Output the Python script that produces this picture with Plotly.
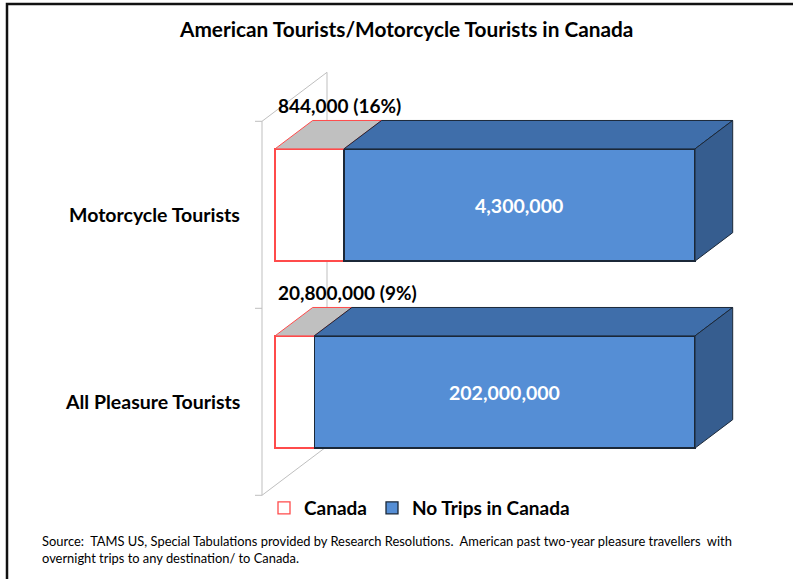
import plotly.graph_objects as go

# ---------------- data ----------------
categories = ["All Pleasure Tourists", "Motorcycle Tourists"]
canada = [20800000, 844000]
no_trips = [202000000, 4300000]
canada_labels = ["20,800,000 (9%)", "844,000 (16%)"]
no_trip_labels = ["202,000,000", "4,300,000"]
series_names = ["Canada", "No Trips in Canada"]
title_text = "American Tourists/Motorcycle Tourists in Canada"
source_text = ("Source:  TAMS US, Special Tabulations provided by Research Resolutions.  "
               "American past two-year pleasure travellers  with<br>overnight trips to any destination/ to Canada.")

# shares (100% stacked)
totals = [a + b for a, b in zip(canada, no_trips)]
pct_canada = [100 * a / t for a, t in zip(canada, totals)]
pct_none = [100 * b / t for b, t in zip(no_trips, totals)]
ypos = list(range(len(categories)))

# ---------------- style / geometry ----------------
W, H = 793, 579
PX_X = 4.2      # px per percent
PX_Y = 187.0    # px per category
X0_PX = 275     # pixel of 0 %
Y0_PX = 392     # pixel of first category centre
FONT = "Lato"
HW = 0.3        # half bar thickness (category units)
DX = 65 / PX_X  # full depth vector (data units)
DY = 49 / PX_Y
D_FRONT, D_BACK = 0.2, 0.78

C_BLUE = "#558ed5"
C_BLUE_TOP = "#3f6eaa"
C_BLUE_SIDE = "#365d8f"
C_EDGE = "#1b2838"
C_RED = "#ff4b4b"
C_GREY = "#c0c0c0"
C_AXIS = "#bfbfbf"


def at_depth(x, y, d):
    return x + (d - D_FRONT) * DX, y + (d - D_FRONT) * DY


fig = go.Figure()

# front faces
fig.add_trace(go.Bar(
    y=ypos, x=pct_canada, orientation="h", width=2 * HW, name=series_names[0],
    marker=dict(color="white", line=dict(color=C_RED, width=1.3)),
))
fig.add_trace(go.Bar(
    y=ypos, x=pct_none, base=pct_canada, orientation="h", width=2 * HW, name=series_names[1],
    marker=dict(color=C_BLUE, line=dict(color=C_EDGE, width=1.3)),
))

bx = (D_BACK - D_FRONT) * DX
by = (D_BACK - D_FRONT) * DY

# top and side faces
for i, y in enumerate(ypos):
    yt = y + HW
    segs = [(0, pct_canada[i], C_GREY, C_RED), (pct_canada[i], pct_canada[i] + pct_none[i], C_BLUE_TOP, C_EDGE)]
    for a, b, fc, lc in segs:
        fig.add_trace(go.Scatter(
            x=[a, b, b + bx, a + bx, a], y=[yt, yt, yt + by, yt + by, yt],
            fill="toself", fillcolor=fc, mode="lines", line=dict(color=lc, width=1),
            showlegend=False, hoverinfo="skip",
        ))
    end = pct_canada[i] + pct_none[i]
    fig.add_trace(go.Scatter(
        x=[end, end + bx, end + bx, end, end],
        y=[y - HW, y - HW + by, y + HW + by, y + HW, y - HW],
        fill="toself", fillcolor=C_BLUE_SIDE, mode="lines", line=dict(color=C_EDGE, width=1),
        showlegend=False, hoverinfo="skip",
    ))

# 3-D category axis (walls)
shapes = []
y_lo, y_hi = -0.5, len(categories) - 0.5
for d in (0.0, 1.0):
    xa, ya = at_depth(0, y_lo, d)
    xb, yb = at_depth(0, y_hi, d)
    shapes.append(dict(type="line", x0=xa, y0=ya, x1=xb, y1=yb, layer="below",
                       line=dict(color=C_AXIS, width=1)))
for yy in (y_lo, y_hi):
    xa, ya = at_depth(0, yy, 0.0)
    xb, yb = at_depth(0, yy, 1.0)
    shapes.append(dict(type="line", x0=xa, y0=ya, x1=xb, y1=yb, layer="below",
                       line=dict(color=C_AXIS, width=1)))
for k in range(len(categories) + 1):
    xa, ya = at_depth(0, k - 0.5, 0.0)
    shapes.append(dict(type="line", x0=xa - 7 / PX_X, y0=ya, x1=xa, y1=ya, layer="below",
                       line=dict(color=C_AXIS, width=1)))
# outer frame
shapes.append(dict(type="rect", xref="paper", yref="paper", x0=7 / W, x1=1.02, y0=-0.02, y1=1 - 4 / H,
                   line=dict(color="#111111", width=2.5)))

annotations = []
for i, y in enumerate(ypos):
    # category label (front plane)
    xl, yl = at_depth(0, y, 0.0)
    annotations.append(dict(x=xl, y=yl, text="<b>%s</b>" % categories[i], showarrow=False,
                            xanchor="right", xshift=-20, font=dict(family=FONT, size=19.5, color="#000")))
    # canada label
    annotations.append(dict(x=0, y=y + 0.53, text="<b>%s</b>" % canada_labels[i], showarrow=False,
                            xanchor="left", xshift=1, font=dict(family=FONT, size=19, color="#000")))
    # no-trip label
    annotations.append(dict(x=pct_canada[i] + pct_none[i] / 2, y=y, text="<b>%s</b>" % no_trip_labels[i],
                            showarrow=False, font=dict(family=FONT, size=19.5, color="white")))

annotations.append(dict(xref="paper", yref="paper", x=406 / W, y=1 - 28 / H, text="<b>%s</b>" % title_text,
                        xanchor="center", yanchor="middle",
                        showarrow=False, font=dict(family=FONT, size=20.8, color="#000")))
annotations.append(dict(xref="paper", yref="paper", x=40 / W, y=1 - 531 / H, text=source_text,
                        showarrow=False, xanchor="left", yanchor="top", align="left",
                        font=dict(family=FONT, size=12.9, color="#000")))

fig.update_layout(
    width=W, height=H, autosize=False,
    margin=dict(l=0, r=0, t=0, b=0),
    paper_bgcolor="white", plot_bgcolor="white",
    barmode="stack",
    showlegend=True,
    legend=dict(orientation="h", x=264 / W, y=1 - 489 / H, xanchor="left", yanchor="top",
                traceorder="normal",
                font=dict(family=FONT, size=19, color="#000", weight="bold"),
                itemwidth=30, bgcolor="rgba(0,0,0,0)"),
    xaxis=dict(range=[-X0_PX / PX_X, (W - X0_PX) / PX_X], visible=False, fixedrange=True),
    yaxis=dict(range=[(Y0_PX - H) / PX_Y, Y0_PX / PX_Y], visible=False, fixedrange=True),
    shapes=shapes,
    annotations=annotations,
)

fig.write_html("out.html")
